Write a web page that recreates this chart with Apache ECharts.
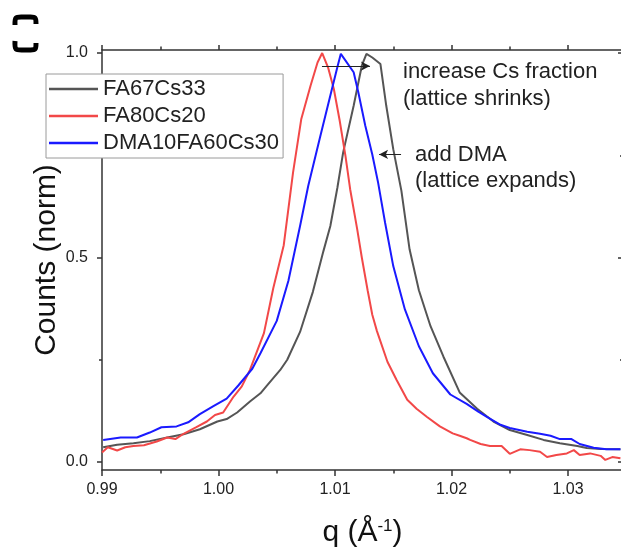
<!DOCTYPE html>
<html><head><meta charset="utf-8">
<script src="https://cdn.jsdelivr.net/npm/echarts@6/dist/echarts.min.js"></script>
<style>html,body{margin:0;padding:0;background:#fff}#c{width:621px;height:550px}</style>
</head><body><div id="c"></div>
<script>
// ---- data ----
const seriesNames = ['FA67Cs33', 'FA80Cs20', 'DMA10FA60Cs30'];

const qFA67 = [0.9901,0.9913,0.9927,0.9941,0.9956,0.9970,0.9984,0.9999,1.0007,1.0016,1.0027,1.0036,1.0041,1.0053,1.0059,1.0070,1.0081,1.0090,1.0096,1.0102,1.0107,1.0116,1.0123,1.0127,1.0132,1.0139,1.0144,1.0150,1.0157,1.0164,1.0172,1.0182,1.0193,1.0207,1.0222,1.0236,1.0250,1.0265,1.0279,1.0293,1.0308,1.0316,1.0328,1.0345];
const cFA67 = [0.036,0.042,0.046,0.051,0.060,0.068,0.080,0.099,0.105,0.121,0.148,0.168,0.185,0.225,0.250,0.318,0.416,0.515,0.577,0.670,0.757,0.871,0.969,0.998,0.989,0.973,0.871,0.765,0.663,0.520,0.420,0.332,0.258,0.170,0.130,0.099,0.078,0.066,0.054,0.046,0.039,0.034,0.032,0.031];

const qFA80 = [0.9900,0.9905,0.9913,0.9920,0.9927,0.9936,0.9947,0.9956,0.9963,0.9970,0.9981,0.9990,0.9997,1.0004,1.0013,1.0020,1.0027,1.0039,1.0047,1.0056,1.0064,1.0071,1.0079,1.0085,1.0089,1.0094,1.0099,1.0104,1.0109,1.0113,1.0119,1.0123,1.0128,1.0132,1.0136,1.0145,1.0153,1.0162,1.0170,1.0179,1.0190,1.0201,1.0207,1.0213,1.0216,1.0225,1.0233,1.0243,1.0250,1.0259,1.0267,1.0276,1.0282,1.0290,1.0299,1.0305,1.0310,1.0319,1.0328,1.0332,1.0338,1.0345];
const cFA80 = [0.023,0.036,0.028,0.036,0.039,0.041,0.050,0.060,0.056,0.069,0.085,0.099,0.115,0.121,0.160,0.185,0.225,0.315,0.425,0.530,0.708,0.838,0.920,0.977,1.000,0.965,0.912,0.835,0.748,0.667,0.570,0.500,0.420,0.360,0.320,0.245,0.200,0.152,0.130,0.110,0.087,0.070,0.064,0.058,0.054,0.044,0.039,0.039,0.020,0.031,0.029,0.025,0.012,0.017,0.021,0.029,0.017,0.021,0.015,0.005,0.012,0.009];

const qDMA = [0.9901,0.9916,0.9930,0.9941,0.9951,0.9964,0.9974,0.9984,0.9996,1.0007,1.0017,1.0029,1.0036,1.0050,1.0060,1.0070,1.0077,1.0087,1.0097,1.0102,1.0105,1.0116,1.0120,1.0126,1.0132,1.0137,1.0143,1.0150,1.0160,1.0172,1.0184,1.0199,1.0213,1.0223,1.0230,1.0242,1.0250,1.0265,1.0276,1.0285,1.0293,1.0303,1.0310,1.0322,1.0333,1.0345];
const cDMA = [0.054,0.060,0.060,0.072,0.085,0.087,0.097,0.117,0.137,0.155,0.187,0.228,0.266,0.345,0.443,0.577,0.675,0.792,0.908,0.965,0.998,0.953,0.904,0.822,0.752,0.683,0.585,0.479,0.373,0.283,0.217,0.165,0.142,0.123,0.111,0.091,0.083,0.074,0.069,0.064,0.056,0.056,0.044,0.035,0.031,0.031];

const xMajorTicks = [0.99, 1.00, 1.01, 1.02, 1.03];
const xMinorTicks = [0.995, 1.005, 1.015, 1.025];
const yMajorTicks = [0, 0.5, 1.0];
const yMinorTicks = [0.25, 0.75];

// annotation arrows [qStart, qEnd, level]
const arrowShrink = [1.00888, 1.0130, 0.968];
const arrowExpand = [1.01567, 1.01378, 0.752];

// ---- chart ----
const colors = ['#555555', '#f24848', '#1a1aff'];
const axisColor = '#333';
const font = '"Liberation Sans", Arial, sans-serif';
const X_MIN = 0.99, X_MAX = 1.03472, Y_MIN = -0.0196, Y_MAX = 1.0074;

function zip(a, b) { return a.map((v, i) => [v, b[i]]); }

function xAx(pos, vals, len, opts) {
  return Object.assign({
    type: 'value', min: X_MIN, max: X_MAX, position: pos, gridIndex: 0,
    axisLine: { show: false, onZero: false }, splitLine: { show: false },
    axisTick: { show: true, customValues: vals, length: len, lineStyle: { color: axisColor, width: 1.5 } },
    axisLabel: { show: false }
  }, opts || {});
}
function yAx(pos, vals, len, inside, opts) {
  return Object.assign({
    type: 'value', min: Y_MIN, max: Y_MAX, position: pos, gridIndex: 0,
    axisLine: { show: false, onZero: false }, splitLine: { show: false },
    axisTick: { show: true, inside: inside, customValues: vals, length: len, lineStyle: { color: axisColor, width: 1.5 } },
    axisLabel: { show: false }
  }, opts || {});
}

const chart = echarts.init(document.getElementById('c'), null, { renderer: 'canvas' });
chart.setOption({
  animation: false,
  backgroundColor: '#fff',
  textStyle: { fontFamily: font },
  grid: { left: 102, right: -2, top: 50, bottom: 80, containLabel: false, outerBoundsMode: 'none' },
  legend: {
    data: seriesNames, orient: 'vertical', left: 46, top: 74,
    icon: 'rect', itemWidth: 49, itemHeight: 2.5, itemGap: 5,
    padding: [4, 4, 4, 3],
    borderColor: '#9a9a9a', borderWidth: 1, backgroundColor: '#fff',
    textStyle: { fontSize: 22, color: '#222', fontFamily: font }
  },
  xAxis: [
    xAx('bottom', xMajorTicks, 6, {
      axisLine: { show: true, onZero: false, lineStyle: { color: axisColor, width: 1.5 } },
      axisLabel: { show: true, customValues: xMajorTicks, fontSize: 16, color: '#222', margin: 12,
        formatter: v => v.toFixed(2), fontFamily: font },
      name: '{a|q (Å}{b|-1}{a|)}', nameLocation: 'middle', nameGap: 48,
      nameTextStyle: { rich: {
        a: { fontSize: 30, color: '#111', fontFamily: font },
        b: { fontSize: 17, color: '#111', fontFamily: font, verticalAlign: 'top', padding: [0, 0, 10, 0] }
      } }
    }),
    xAx('bottom', xMinorTicks, 3.5),
    xAx('top', xMajorTicks, 5, { axisLine: { show: true, onZero: false, lineStyle: { color: axisColor, width: 1.5 } } }),
    xAx('top', xMinorTicks, 3.5)
  ],
  yAxis: [
    yAx('left', yMajorTicks, 5, false, {
      axisLine: { show: true, onZero: false, lineStyle: { color: axisColor, width: 1.5 } },
      axisLabel: { show: true, customValues: yMajorTicks, fontSize: 16, color: '#222', margin: 14,
        formatter: v => v.toFixed(1), fontFamily: font },
      name: 'Counts (norm)', nameLocation: 'middle', nameGap: 40, nameMoveOverlap: false,
      nameTextStyle: { fontSize: 30, color: '#111', fontFamily: font }
    }),
    yAx('left', yMinorTicks, 3, false),
    yAx('right', yMajorTicks, 5, true),
    yAx('right', yMinorTicks, 3, true)
  ],
  series: [
    { name: seriesNames[0], type: 'line', data: zip(qFA67, cFA67), xAxisIndex: 0, yAxisIndex: 0,
      symbol: 'none', color: colors[0], lineStyle: { width: 2, color: colors[0] },
      markLine: {
        silent: true, symbol: ['none', 'arrow'], symbolSize: [7, 9],
        label: { show: false }, lineStyle: { color: '#222', width: 1, type: 'solid' },
        data: [
          [{ coord: [arrowShrink[0], arrowShrink[2]] }, { coord: [arrowShrink[1], arrowShrink[2]] }],
          [{ coord: [arrowExpand[0], arrowExpand[2]] }, { coord: [arrowExpand[1], arrowExpand[2]] }]
        ]
      } },
    { name: seriesNames[1], type: 'line', data: zip(qFA80, cFA80), xAxisIndex: 0, yAxisIndex: 0,
      symbol: 'none', color: colors[1], lineStyle: { width: 2, color: colors[1] } },
    { name: seriesNames[2], type: 'line', data: zip(qDMA, cDMA), xAxisIndex: 0, yAxisIndex: 0,
      symbol: 'none', color: colors[2], lineStyle: { width: 2, color: colors[2] } }
  ],
  graphic: [
    { type: 'text', left: 403, top: 61, style: { text: 'increase Cs fraction', font: '22px ' + font, fill: '#222' } },
    { type: 'text', left: 403, top: 88, style: { text: '(lattice shrinks)', font: '22px ' + font, fill: '#222' } },
    { type: 'text', left: 415, top: 144, style: { text: 'add DMA', font: '22px ' + font, fill: '#222' } },
    { type: 'text', left: 415, top: 170, style: { text: '(lattice expands)', font: '22px ' + font, fill: '#222' } },
    { type: 'polyline', shape: { points: [[15,25],[16,18],[23,17],[29,17],[35,18],[36,24]], smooth: 0.3 },
      style: { stroke: '#000', lineWidth: 5, fill: null } },
    { type: 'polyline', shape: { points: [[15,41],[16,49],[24,50],[29,50],[35,49],[36,43]], smooth: 0.3 },
      style: { stroke: '#000', lineWidth: 5, fill: null } }
  ]
});
</script>
</body></html>
